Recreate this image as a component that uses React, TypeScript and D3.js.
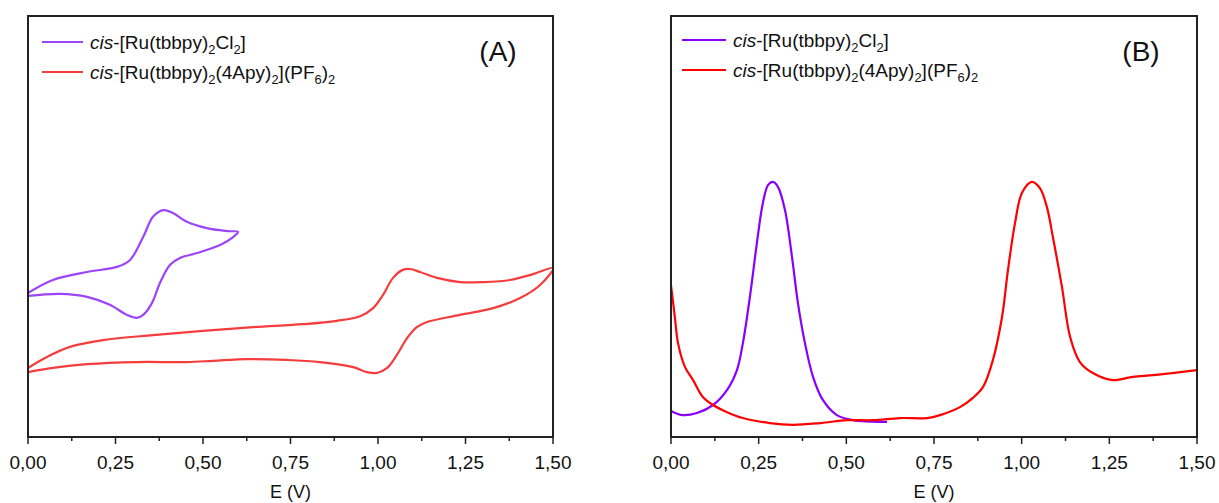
import React, {useEffect, useRef} from "react";
import * as d3 from "d3";

// ---- panel A: cyclic voltammetry (E in V, current in a.u.) ----
const cvClE =   [0, 0.071, 0.169, 0.254, 0.291, 0.329, 0.357, 0.386, 0.414, 0.454, 0.511, 0.569, 0.600,
                 0.586, 0.549, 0.483, 0.434, 0.406, 0.377, 0.354, 0.329, 0.311, 0.283, 0.234, 0.169, 0.091, 0];
const cvClI =   [34.2, 37.3, 39.2, 40.4, 42.0, 47.5, 52.3, 53.9, 53.2, 51.1, 49.6, 48.9, 48.7,
                 47.5, 45.6, 43.7, 42.5, 40.9, 36.6, 31.8, 29.0, 28.3, 29.0, 31.4, 33.3, 34.0, 33.5];

const cvApyE =  [0, 0.054, 0.12, 0.214, 0.357, 0.5, 0.643, 0.786, 0.883, 0.949, 0.986, 1.014, 1.043, 1.071, 1.091,
                 1.12, 1.169, 1.234, 1.3, 1.377, 1.443, 1.5,
                 1.463, 1.406, 1.329, 1.234, 1.14, 1.111, 1.083, 1.054, 1.026, 0.997, 0.969, 0.929, 0.834,
                 0.74, 0.626, 0.529, 0.454, 0.311, 0.169, 0.071, 0];
const cvApyI =  [16.4, 19.0, 21.4, 23.0, 24.2, 25.2, 26.1, 26.8, 27.6, 28.7, 30.6, 33.7, 37.8, 39.7, 39.9,
                 39.2, 37.8, 36.8, 36.8, 37.3, 38.7, 40.1,
                 36.1, 33.0, 30.6, 29.0, 27.3, 26.1, 23.5, 19.5, 16.4, 15.2, 15.4, 16.6, 17.8,
                 18.3, 18.5, 18.1, 17.8, 17.8, 17.3, 16.4, 15.4];

// ---- panel B: differential pulse voltammetry ----
const dpvClE =  [0, 0.034, 0.074, 0.12, 0.16, 0.188, 0.205, 0.225, 0.245, 0.262, 0.277, 0.291, 0.305, 0.325,
                 0.345, 0.362, 0.382, 0.405, 0.433, 0.473, 0.519, 0.616];
const dpvClI =  [6.2, 5.2, 5.7, 7.6, 11.2, 15.9, 22.3, 33.3, 46.1, 55.6, 59.9, 60.6, 59.4, 53.9,
                 42.8, 31.8, 22.3, 14.3, 8.8, 5.2, 4.0, 3.6];

const dpvApyE = [0, 0.011, 0.02, 0.04, 0.063, 0.091, 0.12, 0.16, 0.205, 0.282, 0.348, 0.425, 0.502, 0.576,
                 0.653, 0.73, 0.767, 0.824, 0.861, 0.89, 0.918, 0.944, 0.961, 0.981, 1.001, 1.029, 1.052,
                 1.072, 1.089, 1.115, 1.138, 1.166, 1.203, 1.26, 1.317, 1.375, 1.452, 1.5];
const dpvApyI = [36.0, 28.5, 22.3, 16.6, 13.5, 9.5, 7.6, 5.9, 4.5, 3.3, 2.9, 3.3, 4.0, 4.0,
                 4.5, 4.5, 5.2, 7.1, 9.3, 11.9, 18.3, 28.5, 39.7, 50.8, 58.0, 60.6, 59.1,
                 54.6, 47.5, 35.6, 23.8, 17.8, 15.2, 13.5, 14.3, 14.7, 15.4, 15.9];

const xTicks = [0, 0.25, 0.5, 0.75, 1.0, 1.25, 1.5];
const xMinor = [0.125, 0.375, 0.625, 0.875, 1.125, 1.375];
const xLabel = "E (V)";

const labelCl = [{t: "cis", it: true}, {t: "-[Ru(tbbpy)"}, {t: "2", sub: true}, {t: "Cl"}, {t: "2", sub: true}, {t: "]"}];
const labelApy = [{t: "cis", it: true}, {t: "-[Ru(tbbpy)"}, {t: "2", sub: true}, {t: "(4Apy)"}, {t: "2", sub: true},
                  {t: "](PF"}, {t: "6", sub: true}, {t: ")"}, {t: "2", sub: true}];

const FONT = "'Liberation Sans', Arial, sans-serif";

const zip = (xs, ys) => xs.map((x, i) => ({x, y: ys[i]}));

function richText(g, x, y, parts, size){
    const t = g.append("text")
                .attr("x", x)
                .attr("y", y)
                .attr("font-family", FONT)
                .attr("font-size", size)
                .attr("fill", "#111");
    let down = false;
    parts.forEach(p => {
        const s = t.append("tspan").text(p.t);
        if(p.it) s.attr("font-style", "italic");
        if(p.sub){
            s.attr("font-size", size * 0.68).attr("dy", down ? 0 : 5);
            down = true;
        } else if(down){
            s.attr("dy", -5);
            down = false;
        }
    });
}

function drawPanel(svg, opt){
    const x = d3.scaleLinear().domain([0, 1.5]).range([opt.left, opt.right]);
    const y = d3.scaleLinear().domain([0, 100]).range([opt.bottom, opt.bottom - 421]);
    const g = svg.append("g");

    const line = d3.line()
                    .curve(d3.curveCatmullRom.alpha(0.5))
                    .x(d => x(d.x))
                    .y(d => y(d.y));

    opt.series.forEach(s => {
        g.append("path")
            .attr("d", line(s.data))
            .attr("fill", "none")
            .attr("stroke", s.color)
            .attr("stroke-width", 2.2)
            .attr("stroke-linejoin", "round");
    });

    // frame
    g.append("rect")
        .attr("x", opt.left)
        .attr("y", opt.top)
        .attr("width", opt.right - opt.left)
        .attr("height", opt.bottom - opt.top)
        .attr("fill", "none")
        .attr("stroke", "#222")
        .attr("stroke-width", 2);

    // ticks
    xTicks.forEach(v => {
        g.append("line")
            .attr("x1", x(v)).attr("x2", x(v))
            .attr("y1", opt.bottom).attr("y2", opt.bottom + 7)
            .attr("stroke", "#222").attr("stroke-width", 1.5);
        g.append("text")
            .attr("x", x(v))
            .attr("y", opt.bottom + 32)
            .attr("text-anchor", "middle")
            .attr("font-family", FONT)
            .attr("font-size", 19)
            .attr("fill", "#111")
            .text(d3.format(".2f")(v).replace(".", ","));
    });
    xMinor.forEach(v => {
        g.append("line")
            .attr("x1", x(v)).attr("x2", x(v))
            .attr("y1", opt.bottom).attr("y2", opt.bottom + 4)
            .attr("stroke", "#222").attr("stroke-width", 1.5);
    });
    g.append("text")
        .attr("x", (opt.left + opt.right) / 2)
        .attr("y", opt.bottom + 61)
        .attr("text-anchor", "middle")
        .attr("font-family", FONT)
        .attr("font-size", 18)
        .attr("fill", "#111")
        .text(xLabel);

    // legend
    opt.series.forEach((s, i) => {
        const ly = opt.legY + i * 30;
        g.append("line")
            .attr("x1", opt.legX).attr("x2", opt.legX + opt.legW)
            .attr("y1", ly).attr("y2", ly)
            .attr("stroke", s.color).attr("stroke-width", 2);
        richText(g, opt.legX + opt.legW + 7, ly + 7, s.label, 19);
    });

    g.append("text")
        .attr("x", opt.tagX)
        .attr("y", 61)
        .attr("text-anchor", "middle")
        .attr("font-family", FONT)
        .attr("font-size", 28)
        .attr("fill", "#111")
        .text(opt.tag);
}

export default function App(){
    const ref = useRef(null);
    useEffect(() => {
        const svg = d3.select(ref.current);
        svg.selectChildren().remove();
        drawPanel(svg, {
            left: 28, right: 553, top: 16, bottom: 437,
            legX: 42, legW: 41, legY: 42, tag: "(A)", tagX: 498,
            series: [
                {data: zip(cvClE, cvClI), color: "#9b45f7", label: labelCl},
                {data: zip(cvApyE, cvApyI), color: "#f53d3d", label: labelApy}
            ]
        });
        drawPanel(svg, {
            left: 671, right: 1197, top: 16, bottom: 437,
            legX: 682, legW: 44, legY: 40, tag: "(B)", tagX: 1141,
            series: [
                {data: zip(dpvClE, dpvClI), color: "#8a00ff", label: labelCl},
                {data: zip(dpvApyE, dpvApyI), color: "#ff0000", label: labelApy}
            ]
        });
    });

    return <svg ref={ref} width={1219} height={503}
                style={{position: "absolute", left: 0, top: 0, background: "#fff"}}></svg>;
}
